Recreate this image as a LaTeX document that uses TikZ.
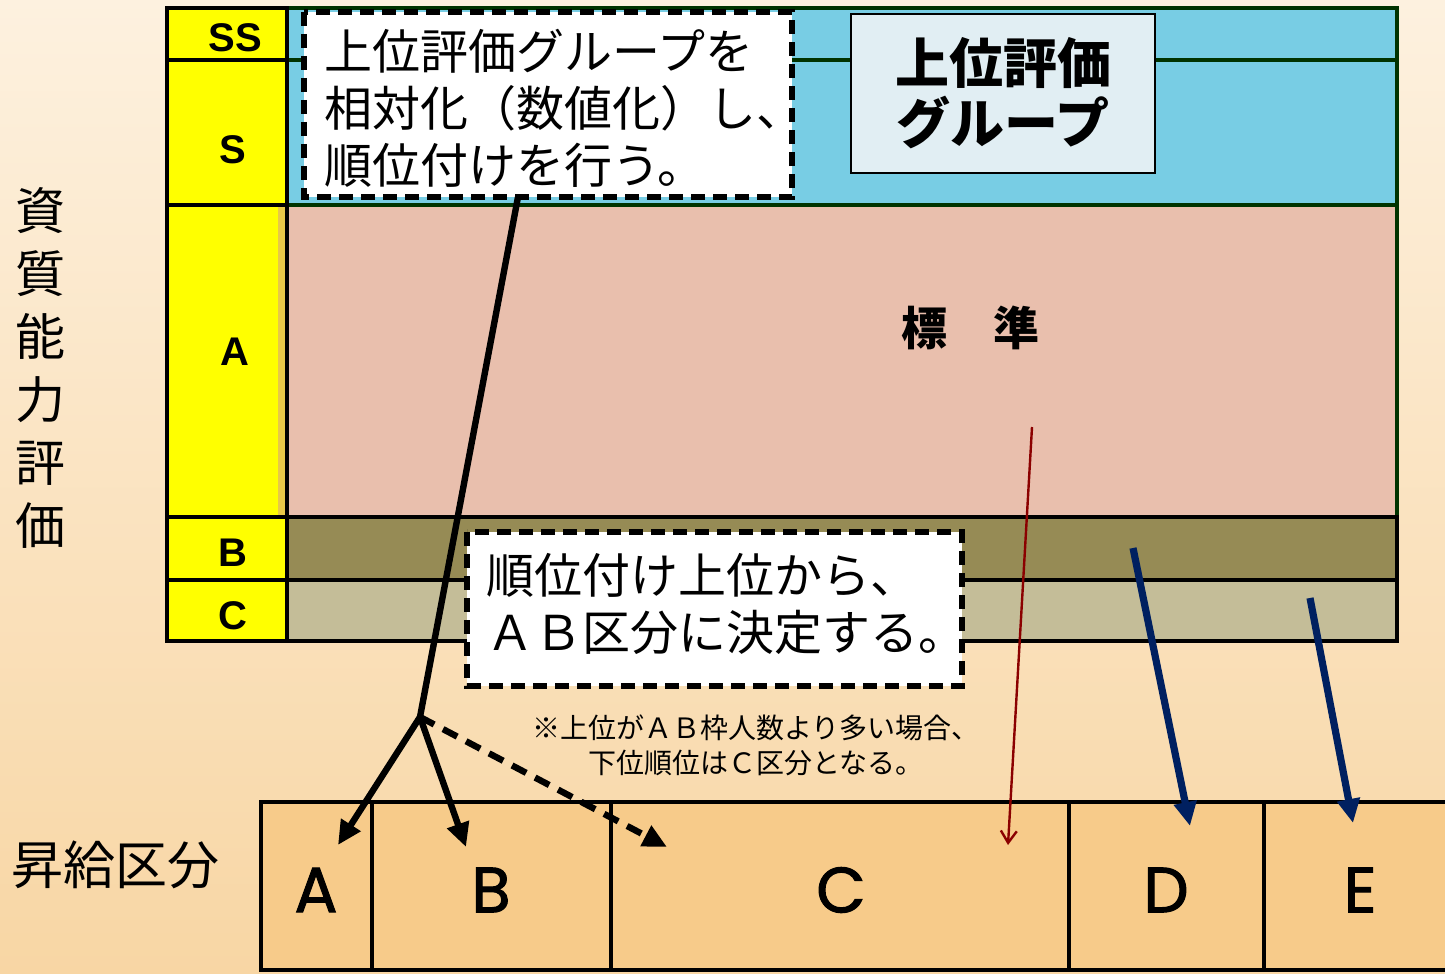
\documentclass[tikz,border=0pt]{standalone}
\usepackage{fontspec}
\setmainfont{Liberation Sans}
\newfontfamily\jp{Noto Sans CJK JP}
\newfontfamily\poppins{Poppins}[BoldFont=Poppins,BoldFeatures={FakeBold=1.6}]
\usetikzlibrary{arrows.meta}

\definecolor{bgtop}{HTML}{FDF1DF}
\definecolor{bgbot}{HTML}{F8D6A4}
\definecolor{skyband}{HTML}{78CDE4}
\definecolor{pinkband}{HTML}{E9BFAD}
\definecolor{bandB}{HTML}{968B55}
\definecolor{bandC}{HTML}{C4BD98}
\definecolor{gradeyellow}{HTML}{FFFF00}
\definecolor{stripe}{HTML}{E8C848}
\definecolor{groupfill}{HTML}{E1EEF3}
\definecolor{kubunfill}{HTML}{F7CB8A}
\definecolor{navyarrow}{HTML}{002060}
\definecolor{redarrow}{HTML}{8B0000}
\definecolor{darkgreen}{HTML}{003300}

\begin{document}
\begin{tikzpicture}[x=0.5pt,y=-0.5pt,
  gridline/.style={line width=1.8pt},
  dashbox/.style={fill=white,line width=3pt,dash pattern=on 7pt off 4pt},
  grade/.style={font=\bfseries\fontsize{20}{20}\selectfont},
  kubun/.style={font=\poppins\bfseries\fontsize{32}{32}\selectfont},
  jptext/.style={font=\jp\fontsize{24}{28.5}\selectfont,align=left,inner sep=0pt},
  rankline/.style={line width=3.2pt},
  rankarrow/.style={line width=3.2pt,-{Triangle[length=12pt,width=11pt]}},
  bluearrow/.style={navyarrow,line width=3.6pt,-{Triangle[length=12pt,width=11pt]}}]
\useasboundingbox (0,0) rectangle (1445,974);

% Background
\shade[top color=bgtop,bottom color=bgbot] (0,0) rectangle (1445,974);

% Evaluation bands
\fill[skyband] (287,8) rectangle (1397,205);
\fill[pinkband] (287,205) rectangle (1397,517);
\fill[bandB] (287,517) rectangle (1397,580);
\fill[bandC] (287,580) rectangle (1397,641);
\draw[darkgreen,gridline] (287,8) rectangle (1397,205);
\draw[darkgreen,gridline] (287,60) -- (1397,60);
\draw[darkgreen,gridline] (1397,205) -- (1397,517);
\draw[gridline] (287,517) rectangle (1397,641);
\draw[gridline] (287,580) -- (1397,580);

% Grade column
\fill[gradeyellow] (167,8) rectangle (287,641);
\fill[stripe] (278,207) rectangle (286,515);
\draw[gridline] (167,8) rectangle (287,641);
\foreach \y in {60,205,517,580}
  \draw[gridline] (167,\y) -- (287,\y);
\node[grade] (gSS) at (235,38) {SS};
\node[grade] (gS) at (233,150) {S};
\node[grade] (gA) at (235,352) {A};
\node[grade] (gB) at (233,553) {B};
\node[grade] (gC) at (233,616) {C};

% Side labels
\node[font=\jp\fontsize{25}{31.5}\selectfont,align=center] (evalLbl) at (41,368) {資\\質\\能\\力\\評\\価};
\node[font=\jp\fontsize{26}{26}\selectfont] (kubunLbl) at (115,865) {昇給区分};

% Upper group
\draw[dashbox] (304,12) rectangle (792,197);
\node[jptext,anchor=west] (rankTxt) at (324,108) {上位評価グループを\\相対化（数値化）し、\\順位付けを行う。};
\node[draw,fill=groupfill,line width=0.8pt,minimum width=152pt,minimum height=79.5pt,
  font=\jp\bfseries\fontsize{27}{30}\selectfont,align=center] (group) at (1003,93.5) {上位評価\\グループ};
\node[font=\jp\bfseries\fontsize{23}{23}\selectfont] (std) at (970,328) {標　準};

% Decision box and note
\draw[dashbox] (467,532) rectangle (962,686);
\node[jptext,anchor=west] (decideTxt) at (486,604) {順位付け上位から、\\ＡＢ区分に決定する。};
\node[font=\jp\fontsize{14}{17.5}\selectfont,align=center] (note) at (756,745) {※上位がＡＢ枠人数より多い場合、\\下位順位はＣ区分となる。};

% Pay grade boxes
\foreach \xa/\xb in {261/372,372/611,611/1069,1069/1264,1264/1460}
  \draw[fill=kubunfill,line width=2.2pt] (\xa,802) rectangle (\xb,970);
\node[kubun] (kA) at (316,890) {A};
\node[kubun] (kB) at (491,890) {B};
\node[kubun] (kC) at (841,890) {C};
\node[kubun] (kD) at (1166,890) {D};
\node[kubun] (kE) at (1360,890) {E};

% Arrows
\coordinate (rankFoot) at (518,197);
\coordinate (fork) at (420,717);
\coordinate (toA) at (338,845);
\coordinate (toB) at (466,847);
\coordinate (toC) at (667,847);
\draw[rankline] (rankFoot) -- (fork);
\draw[rankarrow] (fork) -- (toA);
\draw[rankarrow] (fork) -- (toB);
\draw[rankarrow,dash pattern=on 8pt off 5pt] (fork) -- (toC);

\coordinate (stdFrom) at (1032,427);
\coordinate (stdTo) at (1008,845);
\draw[redarrow,line width=1.2pt,-{Straight Barb[length=6pt,width=8pt]}] (stdFrom) -- (stdTo);

\coordinate (bFrom) at (1133,548);
\coordinate (dTo) at (1190,826);
\coordinate (cFrom) at (1310,598);
\coordinate (eTo) at (1353,823);
\draw[bluearrow] (bFrom) -- (dTo);
\draw[bluearrow] (cFrom) -- (eTo);

\end{tikzpicture}
\end{document}
